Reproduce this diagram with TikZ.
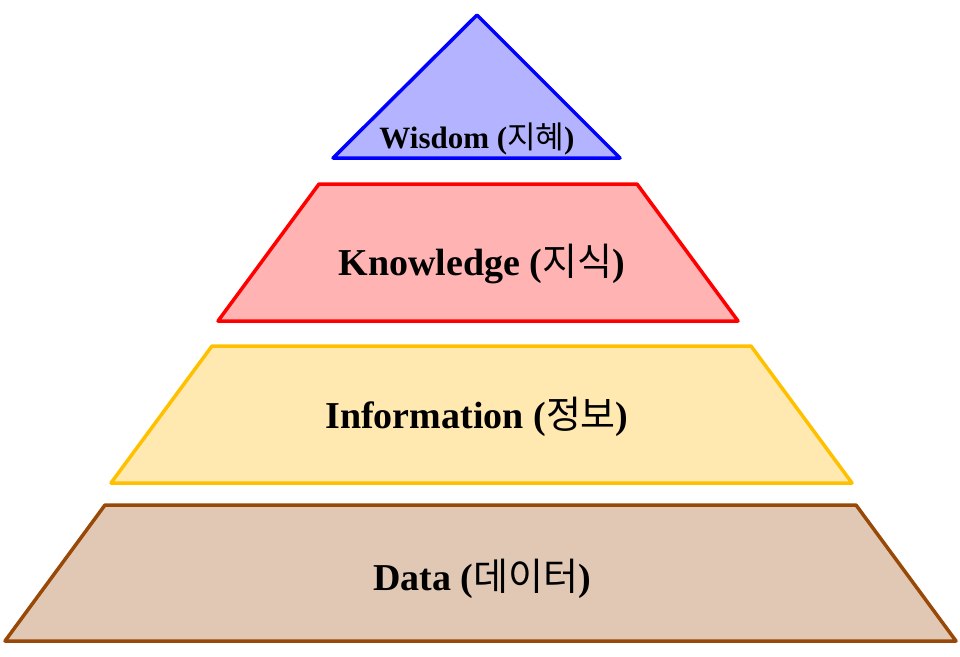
\documentclass[tikz,border=0pt]{standalone}
\usepackage{fontspec}
\setmainfont{Liberation Serif}
\newfontfamily\kr{Noto Sans CJK KR}
\usetikzlibrary{positioning}
\definecolor{wisline}{HTML}{0000FF}
\definecolor{wisfill}{HTML}{B3B3FF}
\definecolor{knowline}{HTML}{FF0000}
\definecolor{knowfill}{HTML}{FFB3B3}
\definecolor{infoline}{HTML}{FFC000}
\definecolor{infofill}{HTML}{FFE9B1}
\definecolor{dataline}{HTML}{984807}
\definecolor{datafill}{HTML}{E0C8B4}
\tikzset{layer/.style={line width=3.5pt,line join=round},
 lbl/.style={anchor=base,font=\fontsize{38}{44}\selectfont\bfseries,inner sep=0pt}}
\begin{document}
\begin{tikzpicture}[x=1pt,y=-1pt]
\useasboundingbox (0,0) rectangle (960,656);
\draw[layer,draw=wisline,fill=wisfill] (477,15)--(620,158)--(333,158)--cycle;
\draw[layer,draw=knowline,fill=knowfill] (319,184)--(637,184)--(738,321)--(218,321)--cycle;
\draw[layer,draw=infoline,fill=infofill] (212,346)--(751,346)--(852,483)--(111,483)--cycle;
\draw[layer,draw=dataline,fill=datafill] (105,505)--(856,505)--(956,641)--(5,641)--cycle;
\node[lbl,font=\fontsize{31}{36}\selectfont\bfseries] (wisdom) at (477,148) {Wisdom ({\kr\mdseries 지혜})};
\node[lbl] (knowledge) at (482,275) {Knowledge ({\kr\mdseries 지식})};
\node[lbl] (information) at (477,428) {Information ({\kr\mdseries 정보})};
\node[lbl] (data) at (482,590) {Data ({\kr\mdseries 데이터})};
\end{tikzpicture}
\end{document}
